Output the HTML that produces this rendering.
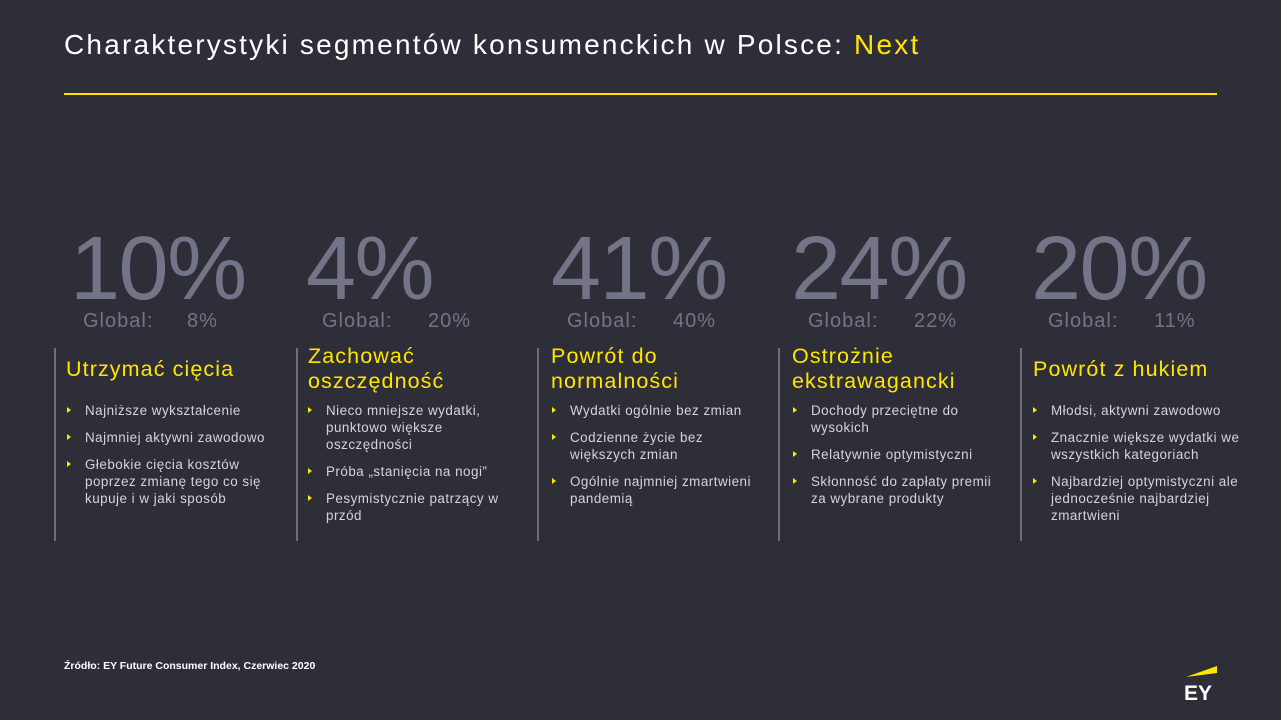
<!DOCTYPE html>
<html><head><meta charset="utf-8"><style>
body{margin:0;width:1281px;height:720px;background:#2e2e38;font-family:"Liberation Sans",sans-serif;position:relative;overflow:hidden}
.a{position:absolute;white-space:nowrap}
.t{left:64px;top:29px;font-size:28px;letter-spacing:2.2px;color:#fff}
.t span{color:#ffe600}
.line{left:64px;top:93px;width:1153px;height:2px;background:#ffe600}
.num{font-size:90px;color:#747489;top:218px;letter-spacing:-1.5px}
.gl{font-size:20px;letter-spacing:1px;color:#747489;top:310px}
.div{width:2px;height:193px;background:#6e6e7a;top:348px}
.h{font-size:21.5px;letter-spacing:1.1px;color:#ffe600;line-height:25px}
ul{position:absolute;margin:0;padding:0;list-style:none;font-size:13.4px;letter-spacing:0.5px;color:#d4d4da;line-height:17px;width:212px}
li{position:relative;padding-left:18px;margin-bottom:10px}
li:before{content:"";position:absolute;left:0;top:5px;border-left:4px solid #ffe600;border-top:3px solid transparent;border-bottom:3px solid transparent}
.src{left:64px;top:660px;font-size:10.5px;color:#fff;font-weight:bold}
</style></head><body>
<div class="a t">Charakterystyki segmentów konsumenckich w Polsce: <span>Next</span></div>
<div class="a line"></div>

<div class="a num" style="left:70px">10%</div>
<div class="a num" style="left:306px">4%</div>
<div class="a num" style="left:551px">41%</div>
<div class="a num" style="left:791px">24%</div>
<div class="a num" style="left:1031px">20%</div>

<div class="a gl" style="left:83px">Global:<span style="position:absolute;left:104px">8%</span></div>
<div class="a gl" style="left:322px">Global:<span style="position:absolute;left:106px">20%</span></div>
<div class="a gl" style="left:567px">Global:<span style="position:absolute;left:106px">40%</span></div>
<div class="a gl" style="left:808px">Global:<span style="position:absolute;left:106px">22%</span></div>
<div class="a gl" style="left:1048px">Global:<span style="position:absolute;left:106px">11%</span></div>

<div class="a div" style="left:54px"></div>
<div class="a div" style="left:296px"></div>
<div class="a div" style="left:537px"></div>
<div class="a div" style="left:778px"></div>
<div class="a div" style="left:1020px"></div>

<div class="a h" style="left:66px;top:357px">Utrzymać cięcia</div>
<div class="a h" style="left:308px;top:344px">Zachować<br>oszczędność</div>
<div class="a h" style="left:551px;top:344px">Powrót do<br>normalności</div>
<div class="a h" style="left:792px;top:344px">Ostrożnie<br>ekstrawagancki</div>
<div class="a h" style="left:1033px;top:357px">Powrót z hukiem</div>

<ul style="left:67px;top:402px"><li>Najniższe wykształcenie</li><li>Najmniej aktywni zawodowo</li><li>Głebokie cięcia kosztów<br>poprzez  zmianę tego co się<br>kupuje i w jaki sposób</li></ul>
<ul style="left:308px;top:402px"><li>Nieco mniejsze wydatki,<br>punktowo większe<br>oszczędności</li><li>Próba „stanięcia na nogi”</li><li>Pesymistycznie patrzący w<br>przód</li></ul>
<ul style="left:552px;top:402px"><li>Wydatki ogólnie bez zmian</li><li>Codzienne życie bez<br>większych zmian</li><li>Ogólnie najmniej zmartwieni<br>pandemią</li></ul>
<ul style="left:793px;top:402px"><li>Dochody przeciętne do<br>wysokich</li><li>Relatywnie optymistyczni</li><li>Skłonność do zapłaty premii<br>za wybrane produkty</li></ul>
<ul style="left:1033px;top:402px"><li>Młodsi, aktywni zawodowo</li><li>Znacznie większe wydatki we<br>wszystkich kategoriach</li><li>Najbardziej optymistyczni ale<br>jednocześnie najbardziej<br>zmartwieni</li></ul>

<div class="a src">Źródło: EY Future Consumer Index, Czerwiec 2020</div>
<svg class="a" style="left:1180px;top:660px" width="45" height="45"><polygon points="6,17 37,6 37,13" fill="#ffe600"/><text x="4" y="40" font-family="Liberation Sans" font-weight="bold" font-size="21" fill="#fff">EY</text></svg>
</body></html>
